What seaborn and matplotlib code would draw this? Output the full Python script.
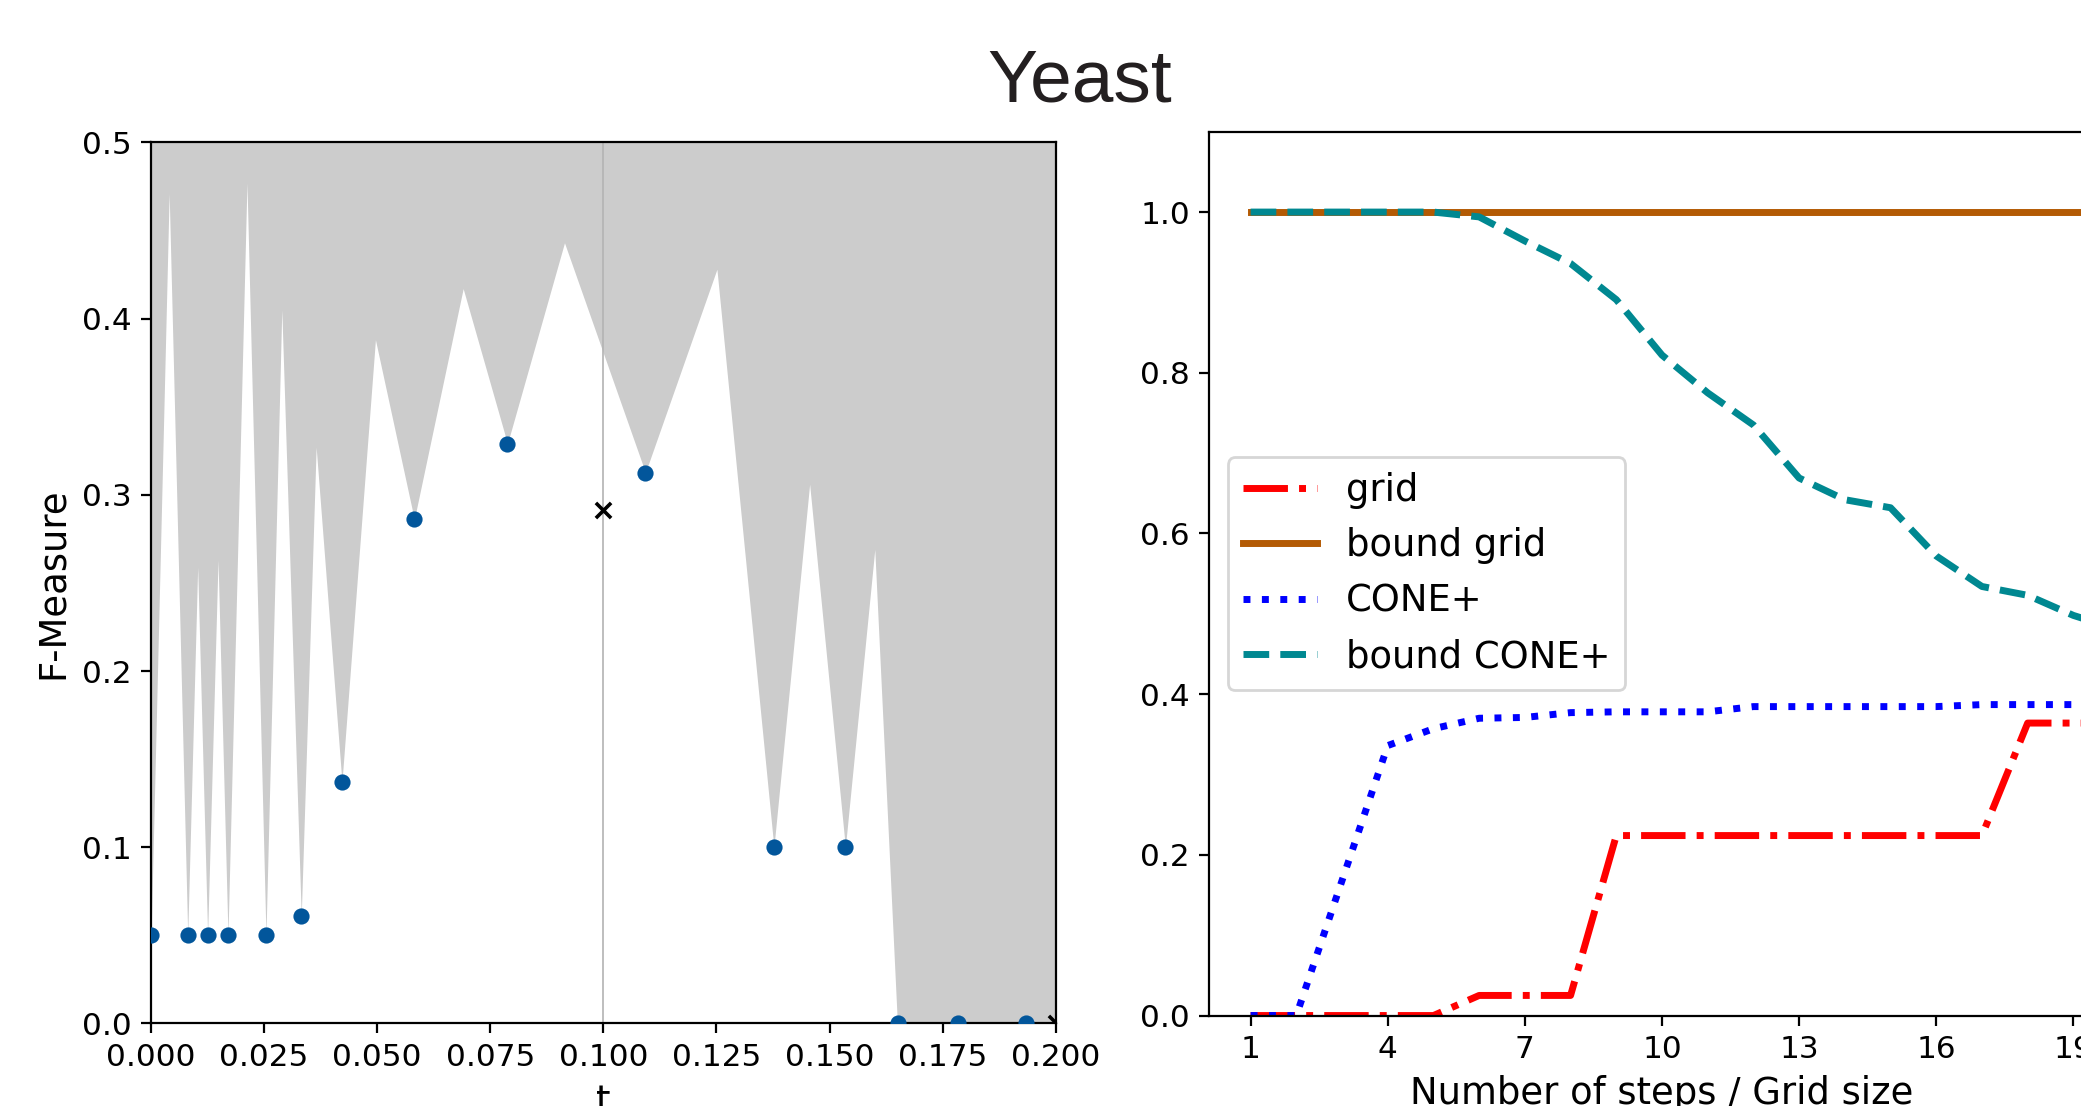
import matplotlib
matplotlib.use("Agg")
import matplotlib.pyplot as plt
import seaborn as sns

# --- left panel: sampled thresholds and F-measure ---
t_points = [0.0, 0.0081, 0.0125, 0.0170, 0.0254, 0.0332, 0.0422, 0.0582,
            0.0788, 0.1093, 0.1377, 0.1535, 0.1651, 0.1783, 0.1934]
f_points = [0.05, 0.05, 0.05, 0.05, 0.05, 0.061, 0.137, 0.286,
            0.329, 0.3126, 0.10, 0.10, 0.0, 0.0, 0.0]

# upper envelope of the excluded (grey) region
t_bound = [0.0, 0.0040, 0.0081, 0.0103, 0.0125, 0.0148, 0.0170, 0.0212,
           0.0254, 0.0289, 0.0332, 0.0365, 0.0422, 0.0496, 0.0582, 0.0690,
           0.0788, 0.0914, 0.1093, 0.1251, 0.1377, 0.1456, 0.1535, 0.1600,
           0.1650, 0.2000]
f_bound = [0.05, 0.471, 0.05, 0.259, 0.05, 0.263, 0.05, 0.477,
           0.05, 0.405, 0.061, 0.327, 0.137, 0.388, 0.286, 0.417,
           0.329, 0.443, 0.3126, 0.428, 0.10, 0.306, 0.10, 0.269,
           0.0, 0.0]

t_cross = [0.1, 0.2]
f_cross = [0.2916, 0.0]

# --- right panel: steps / grid size ---
steps = list(range(1, 21))
grid = [0.0, 0.0, 0.0, 0.0, 0.0, 0.025, 0.025, 0.025, 0.224, 0.224,
        0.224, 0.224, 0.224, 0.224, 0.224, 0.224, 0.224, 0.364, 0.364, 0.364]
bound_grid = [1.0, 1.0, 1.0, 1.0, 1.0, 1.0, 1.0, 1.0, 1.0, 1.0,
              1.0, 1.0, 1.0, 1.0, 1.0, 1.0, 1.0, 1.0, 1.0, 1.0]
cone = [0.0, 0.0, 0.168, 0.336, 0.357, 0.370, 0.371, 0.377, 0.378, 0.378,
        0.378, 0.3845, 0.3845, 0.3845, 0.3845, 0.3845, 0.387, 0.387, 0.387, 0.387]
bound_cone = [1.0, 1.0, 1.0, 1.0, 1.0, 0.994, 0.964, 0.936, 0.891, 0.822,
              0.775, 0.735, 0.669, 0.642, 0.632, 0.572, 0.534, 0.523, 0.498, 0.48]

TICK = 11.2
LABEL = 13.3

fig = plt.figure(figsize=(2081 / 200, 1106 / 200), dpi=200)
ax1 = fig.add_axes([0.0726, 0.0746, 0.4347, 0.7967])
ax2 = fig.add_axes([0.5812, 0.0818, 0.4349, 0.7991])

# left
ax1.fill_between(t_bound, f_bound, 0.5, color="#cccccc", lw=0, zorder=1)
ax1.axvline(0.1, color="#b3b3b3", lw=0.6, zorder=2)
sns.scatterplot(x=t_points, y=f_points, ax=ax1, color="#02569b", s=34,
                linewidth=0, zorder=3)
sns.scatterplot(x=t_cross, y=f_cross, ax=ax1, marker="x", color="black",
                s=30, linewidth=1.3, zorder=4)
ax1.set_xlim(0, 0.2)
ax1.set_ylim(0, 0.5)
ax1.set_xticks([i * 0.025 for i in range(9)])
ax1.set_xticklabels([f"{i * 0.025:.3f}" for i in range(9)])
ax1.set_yticks([i * 0.1 for i in range(6)])
ax1.set_yticklabels([f"{i * 0.1:.1f}" for i in range(6)])
ax1.set_xlabel("t", fontsize=LABEL)
ax1.set_ylabel("F-Measure", fontsize=LABEL)
ax1.tick_params(labelsize=TICK)

# right
sns.lineplot(x=steps, y=grid, ax=ax2, color="#ff0000", linestyle="-.",
             lw=2.5, label="grid")
sns.lineplot(x=steps, y=bound_grid, ax=ax2, color="#b35a04", linestyle="-",
             lw=2.5, label="bound grid")
sns.lineplot(x=steps, y=cone, ax=ax2, color="#0000ff", linestyle=":",
             lw=2.5, label="CONE+")
sns.lineplot(x=steps, y=bound_cone, ax=ax2, color="#008891", linestyle="--",
             lw=2.5, label="bound CONE+")
ax2.set_xlim(0.1, 19.9)
ax2.set_ylim(0, 1.1)
ax2.set_xticks(list(range(1, 20, 3)))
ax2.set_yticks([0.0, 0.2, 0.4, 0.6, 0.8, 1.0])
ax2.set_yticklabels(["0.0", "0.2", "0.4", "0.6", "0.8", "1.0"])
ax2.set_xlabel("Number of steps / Grid size", fontsize=LABEL)
ax2.set_ylabel("")
ax2.tick_params(labelsize=TICK)
ax2.legend(loc="center left", fontsize=LABEL)

fig.text(0.519, 0.9078, "Yeast", ha="center", va="baseline", fontsize=27,
         family="Liberation Sans", color="#231f20")

fig.savefig("out.png", dpi=200)
